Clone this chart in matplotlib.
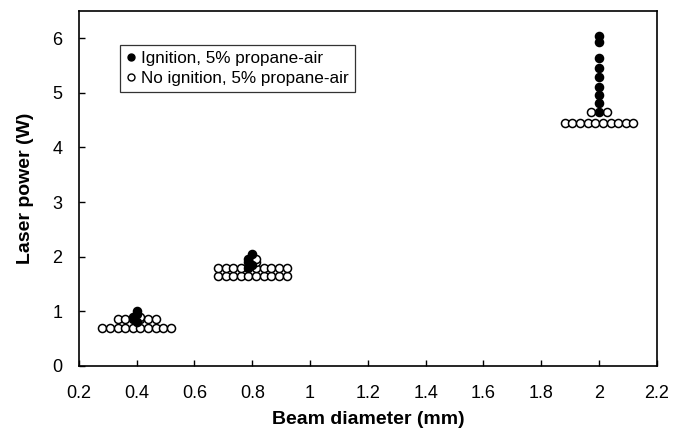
import matplotlib
matplotlib.use("Agg")
import matplotlib.pyplot as plt
from matplotlib.transforms import ScaledTranslation
from collections import Counter

plt.rcParams['font.family'] = ['Liberation Sans', 'DejaVu Sans']

# ---- data (beam diameter in mm, laser power in W) ----
diameters = [0.4, 0.8, 2.0]

ignition = {
    0.4: [0.80, 0.85, 0.90, 0.95, 1.00],
    0.8: [1.80, 1.85, 1.90, 1.95, 2.05],
    2.0: [4.65, 4.82, 4.96, 5.11, 5.28, 5.46, 5.64, 5.92, 6.03],
}
no_ignition = {
    0.4: [0.70, 0.70, 0.70, 0.70, 0.70, 0.70, 0.70, 0.70, 0.70, 0.70,
          0.85, 0.85, 0.85, 0.85, 0.85, 0.90],
    0.8: [1.65, 1.65, 1.65, 1.65, 1.65, 1.65, 1.65, 1.65, 1.65, 1.65,
          1.80, 1.80, 1.80, 1.80, 1.80, 1.80, 1.80, 1.80, 1.80,
          1.90, 1.95],
    2.0: [4.45, 4.45, 4.45, 4.45, 4.45, 4.45, 4.45, 4.45, 4.45, 4.45,
          4.65, 4.65],
}

x_ticks = [0.2, 0.4, 0.6, 0.8, 1.0, 1.2, 1.4, 1.6, 1.8, 2.0, 2.2]
x_tick_labels = ["0.2", "0.4", "0.6", "0.8", "1", "1.2", "1.4", "1.6", "1.8", "2", "2.2"]
y_ticks = [0, 1, 2, 3, 4, 5, 6]
legend_labels = ["Ignition, 5% propane-air", "No ignition, 5% propane-air"]

# ---- figure ----
fig = plt.figure(figsize=(6.8, 4.32), dpi=100)
ax = fig.add_axes([0.116, 0.153, 0.85, 0.822])
ax.set_xlim(0.2, 2.2)
ax.set_ylim(0, 6.5)

ms = 5.8        # marker size (points)
step_pt = 5.5   # horizontal spacing between stacked points (points)

for d in diameters:
    c_open = Counter(no_ignition[d])
    c_fill = Counter(ignition[d])
    levels = sorted(set(c_open) | set(c_fill))
    for lev in levels:
        n_o = c_open.get(lev, 0)
        n_f = c_fill.get(lev, 0)
        n = n_o + n_f
        left = n_o // 2
        kinds = ['o'] * left + ['f'] * n_f + ['o'] * (n_o - left)
        for i, k in enumerate(kinds):
            dx = (i - (n - 1) / 2) * step_pt / 72.0
            tr = ax.transData + ScaledTranslation(dx, 0, fig.dpi_scale_trans)
            if k == 'o':
                ax.plot([d], [lev], marker='o', ms=ms, mfc='white', mec='black',
                        mew=1.1, ls='none', transform=tr, zorder=3)
            else:
                ax.plot([d], [lev], marker='o', ms=ms, mfc='black', mec='black',
                        mew=1.1, ls='none', transform=tr, zorder=4)

h1 = ax.plot([], [], marker='o', ms=5, mfc='black', mec='black', ls='none')[0]
h2 = ax.plot([], [], marker='o', ms=5, mfc='white', mec='black', ls='none')[0]
leg = ax.legend([h1, h2], legend_labels, loc='upper left',
                bbox_to_anchor=(0.072, 0.905), frameon=True, fancybox=False,
                edgecolor='black', fontsize=12.3, handlelength=0.5,
                handletextpad=0.35, borderpad=0.35, labelspacing=0.3,
                borderaxespad=0)
leg.get_frame().set_linewidth(0.9)

ax.set_xticks(x_ticks)
ax.set_xticklabels(x_tick_labels)
ax.set_yticks(y_ticks)
ax.tick_params(direction='in', length=4, width=1, labelsize=13,
               top=False, right=False)
ax.tick_params(axis='x', pad=14)
ax.tick_params(axis='y', pad=12)
for s in ax.spines.values():
    s.set_linewidth(1.2)

ax.set_xlabel("Beam diameter (mm)", fontsize=14, fontweight='bold', labelpad=6)
ax.set_ylabel("Laser power (W)", fontsize=14, fontweight='bold', labelpad=13)

fig.savefig("out.png", dpi=100)
